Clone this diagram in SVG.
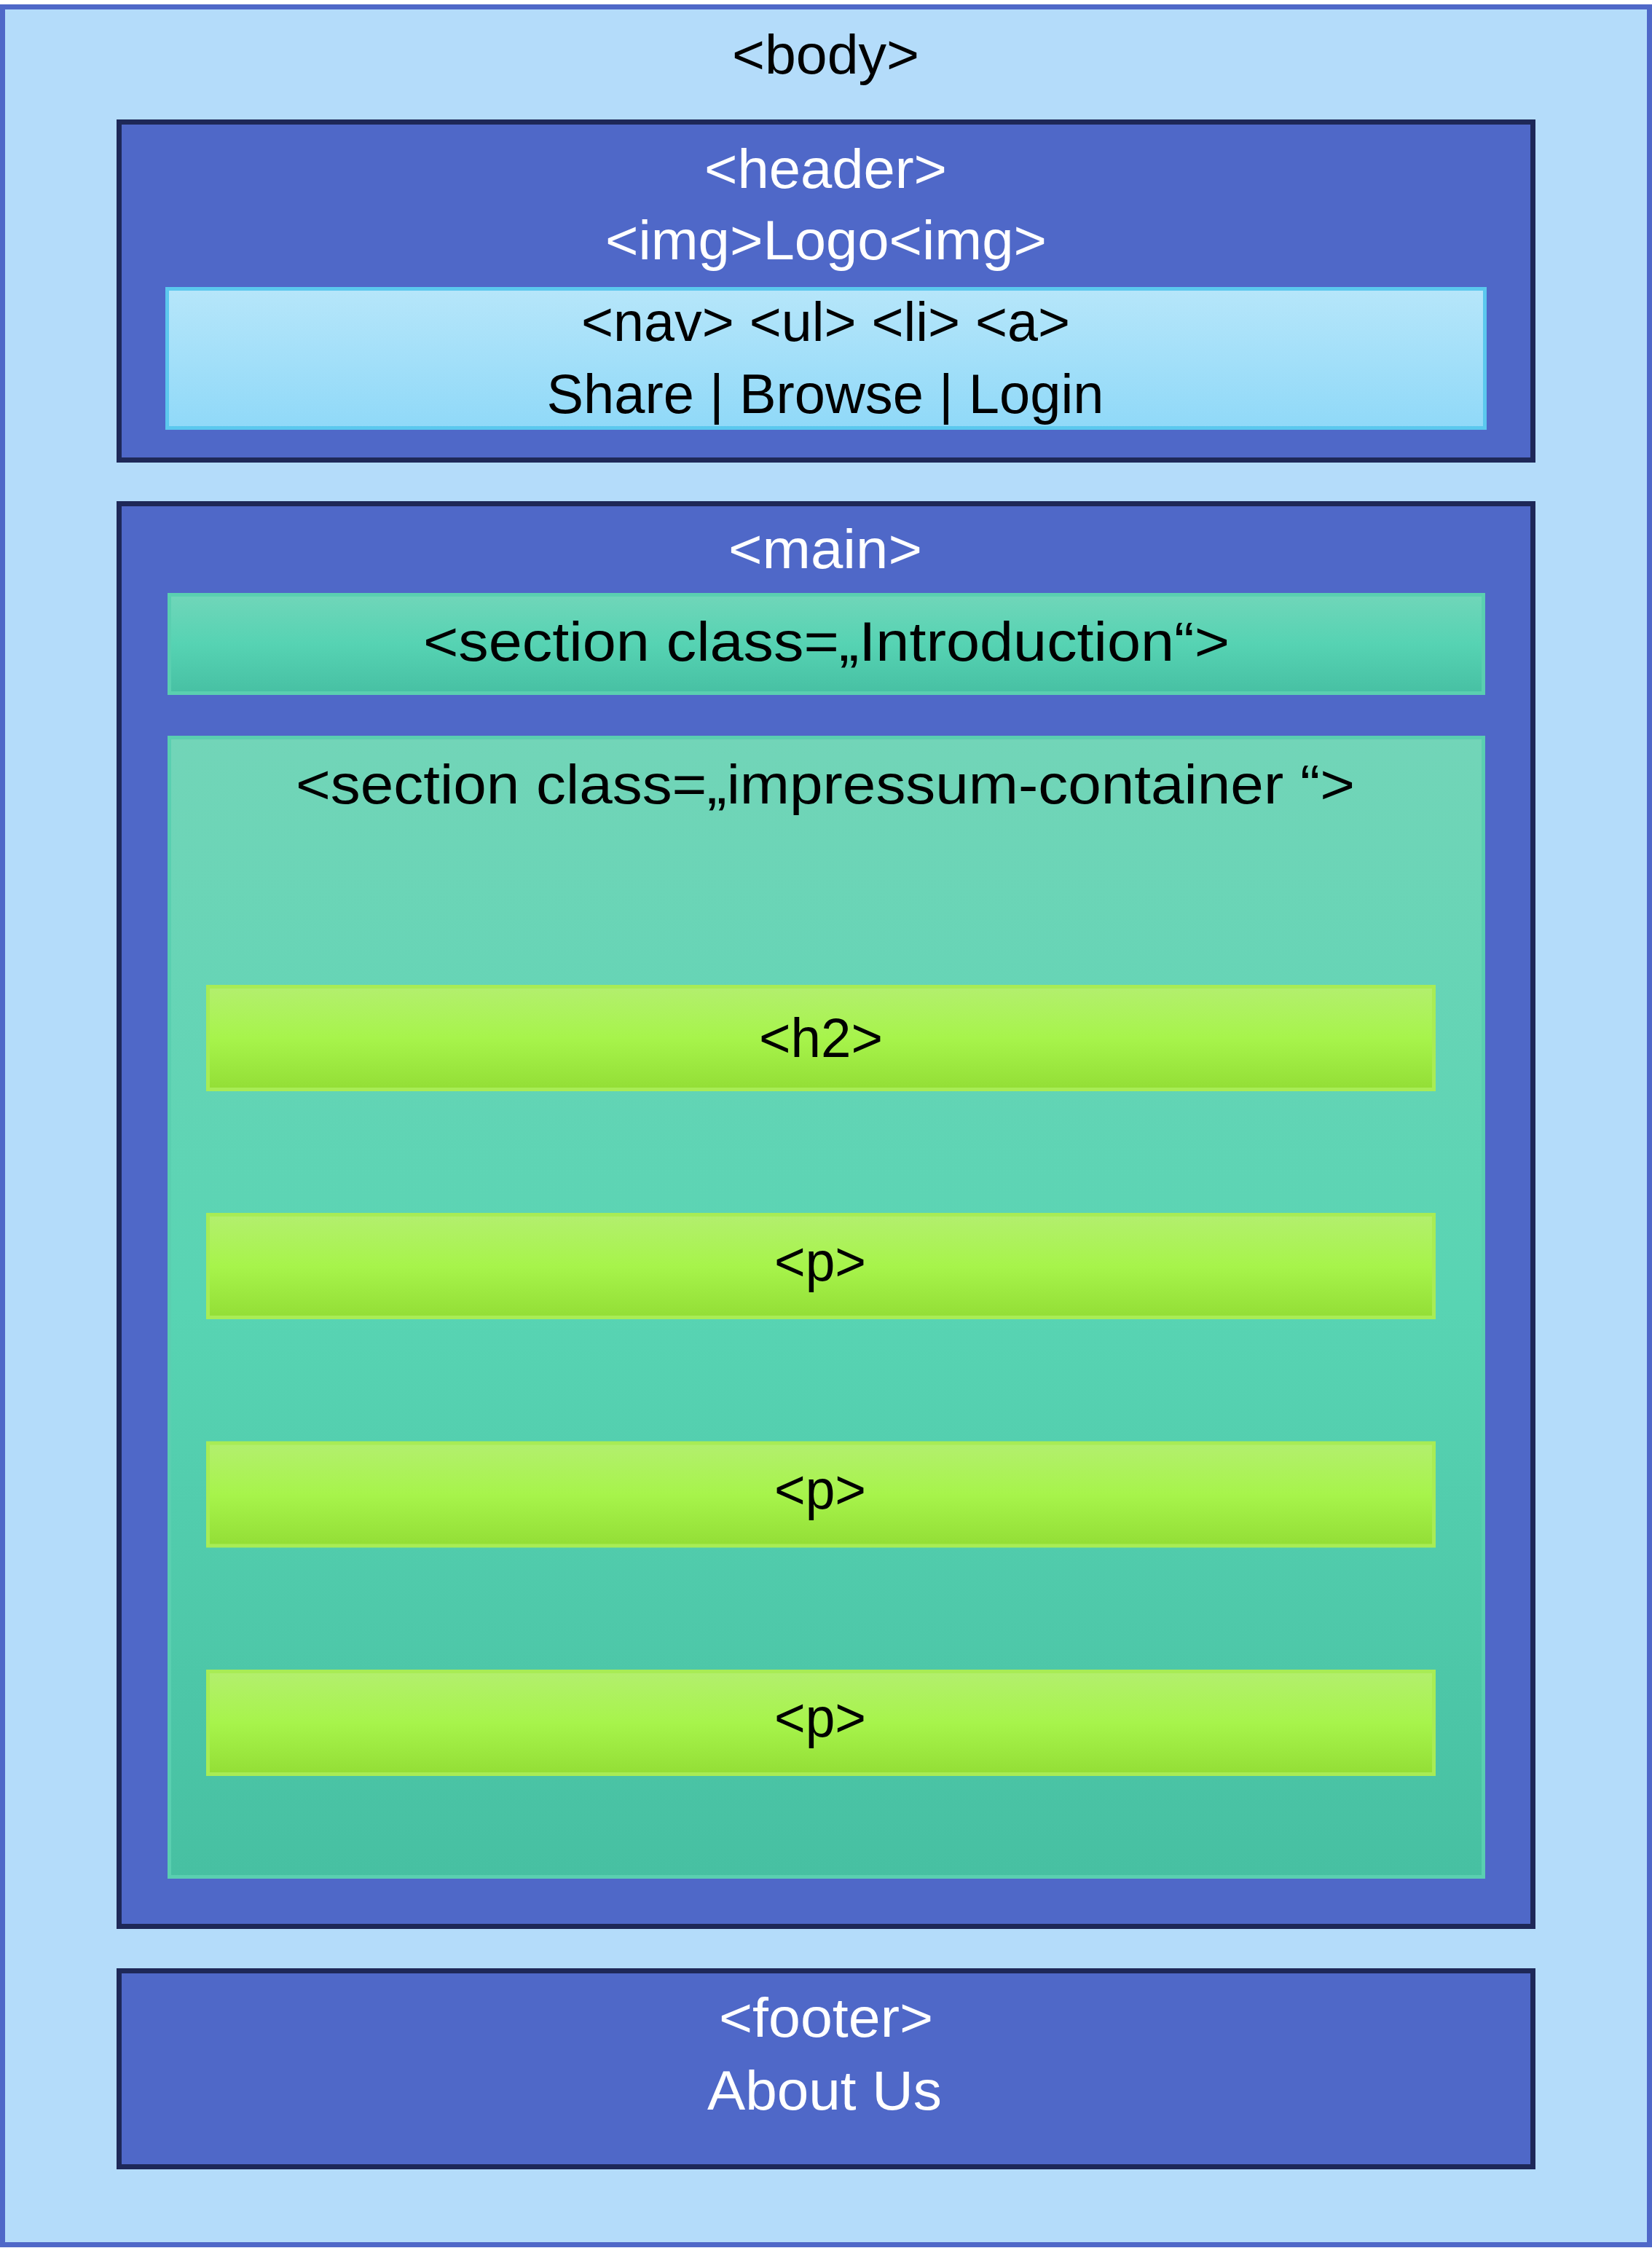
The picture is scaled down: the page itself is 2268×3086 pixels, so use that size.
<svg xmlns="http://www.w3.org/2000/svg" width="2268" height="3086" viewBox="0 0 2268 3086">
  <style>
    text { font-family: "Liberation Sans", Arial, sans-serif; font-size: 76px; text-anchor: middle; }
    .dark { fill: #000000; }
    .light { fill: #ffffff; }
    .outer { fill: #4F68C8; stroke: #1E2858; stroke-width: 7; }
  </style>
  <defs>
    <linearGradient id="gNav" x1="0" y1="0" x2="0" y2="1">
      <stop offset="0" stop-color="#B6E6FA"/>
      <stop offset="1" stop-color="#90D9F8"/>
    </linearGradient>
    <linearGradient id="gIntro" x1="0" y1="0" x2="0" y2="1">
      <stop offset="0" stop-color="#70D6B9"/>
      <stop offset="0.5" stop-color="#56D3B3"/>
      <stop offset="1" stop-color="#47C0A3"/>
    </linearGradient>
    <linearGradient id="gImp" x1="0" y1="0" x2="0" y2="1">
      <stop offset="0" stop-color="#72D5B8"/>
      <stop offset="0.5" stop-color="#58D4B3"/>
      <stop offset="1" stop-color="#47C0A2"/>
    </linearGradient>
    <linearGradient id="gGreen" x1="0" y1="0" x2="0" y2="1">
      <stop offset="0" stop-color="#B3EF6E"/>
      <stop offset="0.5" stop-color="#A7F44B"/>
      <stop offset="1" stop-color="#93DE36"/>
    </linearGradient>
  </defs>

  <g id="body">
    <rect x="3.5" y="9.5" width="2261" height="3072" fill="#B4DCFA" stroke="#4F68C8" stroke-width="7"/>
    <text class="dark" x="1133.5" y="101" textLength="257" lengthAdjust="spacingAndGlyphs">&lt;body&gt;</text>
  </g>

  <g id="header">
    <rect class="outer" x="163.5" y="167.5" width="1941" height="464"/>
    <text class="light" x="1133.5" y="258" textLength="333" lengthAdjust="spacingAndGlyphs">&lt;header&gt;</text>
    <text class="light" x="1134" y="356" textLength="606" lengthAdjust="spacingAndGlyphs">&lt;img&gt;Logo&lt;img&gt;</text>
  </g>

  <g id="nav">
    <rect x="229.5" y="396.5" width="1809" height="191" fill="url(#gNav)" stroke="#5BC8EE" stroke-width="5"/>
    <text class="dark" x="1133.5" y="468" textLength="671" lengthAdjust="spacingAndGlyphs">&lt;nav&gt; &lt;ul&gt; &lt;li&gt; &lt;a&gt;</text>
    <text class="dark" x="1133" y="567" textLength="765" lengthAdjust="spacingAndGlyphs">Share | Browse | Login</text>
  </g>

  <g id="main">
    <rect class="outer" x="163.5" y="691.5" width="1941" height="1953"/>
    <text class="light" x="1133" y="780" textLength="266" lengthAdjust="spacingAndGlyphs">&lt;main&gt;</text>
  </g>

  <g id="section-introduction">
    <rect x="232.5" y="816.5" width="1804" height="135" fill="url(#gIntro)" stroke="#5ACFB0" stroke-width="5"/>
    <text class="dark" x="1134.5" y="907" textLength="1107" lengthAdjust="spacingAndGlyphs">&lt;section class=„Introduction“&gt;</text>
  </g>

  <g id="section-impressum">
    <rect x="232.5" y="1012.5" width="1804" height="1564" fill="url(#gImp)" stroke="#5ACFB0" stroke-width="5"/>
    <text class="dark" x="1133" y="1103" textLength="1454" lengthAdjust="spacingAndGlyphs">&lt;section class=„impressum-container “&gt;</text>
  </g>

  <g id="h2">
    <rect x="285.5" y="1354.5" width="1683" height="141" fill="url(#gGreen)" stroke="#A8EC55" stroke-width="5"/>
    <text class="dark" x="1127" y="1451" textLength="170" lengthAdjust="spacingAndGlyphs">&lt;h2&gt;</text>
  </g>

  <g id="p1">
    <rect x="285.5" y="1667.5" width="1683" height="141" fill="url(#gGreen)" stroke="#A8EC55" stroke-width="5"/>
    <text class="dark" x="1126" y="1758" textLength="126" lengthAdjust="spacingAndGlyphs">&lt;p&gt;</text>
  </g>

  <g id="p2">
    <rect x="285.5" y="1981" width="1683" height="141" fill="url(#gGreen)" stroke="#A8EC55" stroke-width="5"/>
    <text class="dark" x="1126" y="2071" textLength="126" lengthAdjust="spacingAndGlyphs">&lt;p&gt;</text>
  </g>

  <g id="p3">
    <rect x="285.5" y="2294.5" width="1683" height="141" fill="url(#gGreen)" stroke="#A8EC55" stroke-width="5"/>
    <text class="dark" x="1126" y="2384" textLength="126" lengthAdjust="spacingAndGlyphs">&lt;p&gt;</text>
  </g>

  <g id="footer">
    <rect class="outer" x="163.5" y="2705.5" width="1941" height="269"/>
    <text class="light" x="1134" y="2796" textLength="294" lengthAdjust="spacingAndGlyphs">&lt;footer&gt;</text>
    <text class="light" x="1132" y="2896" textLength="322" lengthAdjust="spacingAndGlyphs">About Us</text>
  </g>

  <g id="connectors"></g>
</svg>
